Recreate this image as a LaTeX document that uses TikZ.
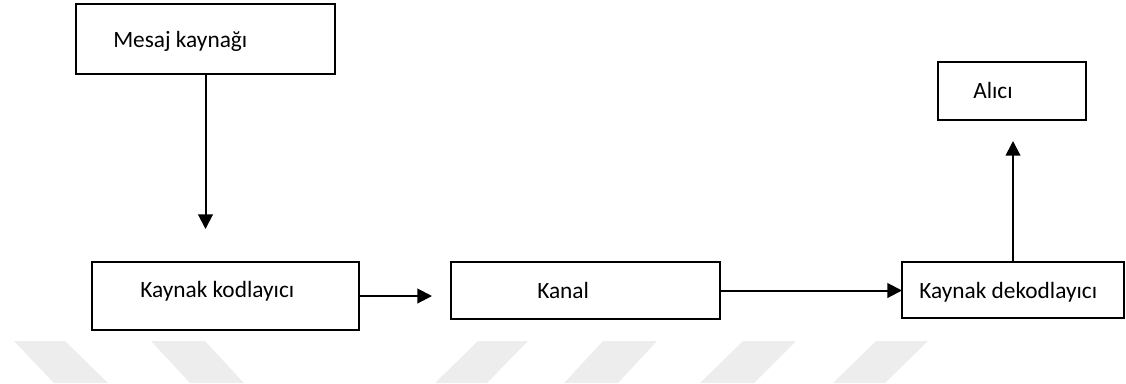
\documentclass[tikz,border=0pt]{standalone}
\usepackage{fontspec}
\setmainfont{Carlito}
\usetikzlibrary{arrows.meta}
\definecolor{wm}{RGB}{237,237,237}
\tikzset{
  box/.style={draw=black, line width=1.5pt, rectangle, inner sep=0pt, outer sep=0pt},
  lbl/.style={anchor=base west, inner sep=0pt, font=\fontsize{17.5}{21}\selectfont},
  conn/.style={line width=1.5pt, -{Triangle[length=11pt,width=11pt]}},
  stripe/.style={fill=wm, draw=none}
}
\begin{document}
\begin{tikzpicture}[x=0.75pt, y=-0.75pt]
\useasboundingbox (0,0) rectangle (1126,383);
% watermark stripes
\fill[stripe] (14,341) -- (65,341) -- (108,383) -- (54,383) -- cycle;
\fill[stripe] (151,341) -- (205,341) -- (244,383) -- (190,383) -- cycle;
\fill[stripe] (478,341) -- (528,341) -- (487,383) -- (435,383) -- cycle;
\fill[stripe] (603,341) -- (657,341) -- (618,383) -- (564,383) -- cycle;
\fill[stripe] (743,341) -- (796,341) -- (754,383) -- (700,383) -- cycle;
\fill[stripe] (876,341) -- (928,341) -- (885,383) -- (833,383) -- cycle;
% boxes
\node[box, minimum width=194.25pt, minimum height=52.5pt] (mesaj) at (205.5,39) {};
\node[box, minimum width=200.25pt, minimum height=51pt] (kod) at (225.5,296) {};
\node[box, minimum width=201.75pt, minimum height=42.75pt] (kanal) at (585.5,290.5) {};
\node[box, minimum width=166.5pt, minimum height=42pt] (dekod) at (1013,290) {};
\node[box, minimum width=111pt, minimum height=43.5pt] (alici) at (1012,91) {};
% labels
\node[lbl] (tmesaj) at (113,47) {Mesaj kaynağı};
\node[lbl] (tkod) at (140,297) {Kaynak kodlayıcı};
\node[lbl] (tkanal) at (537,298) {Kanal};
\node[lbl] (tdekod) at (919,298) {Kaynak dekodlayıcı};
\node[lbl] (talici) at (973,98) {Alıcı};
% connectors
\coordinate (e1) at (205.5,229);
\coordinate (e2) at (432,296);
\coordinate (e4) at (1013,141);
\draw[conn] (mesaj.south) -- (e1);
\draw[conn] (kod.east) -- (e2);
\draw[conn] (kanal.east) -- (kanal.east -| dekod.west);
\draw[conn] (dekod.north) -- (e4);
\end{tikzpicture}
\end{document}
